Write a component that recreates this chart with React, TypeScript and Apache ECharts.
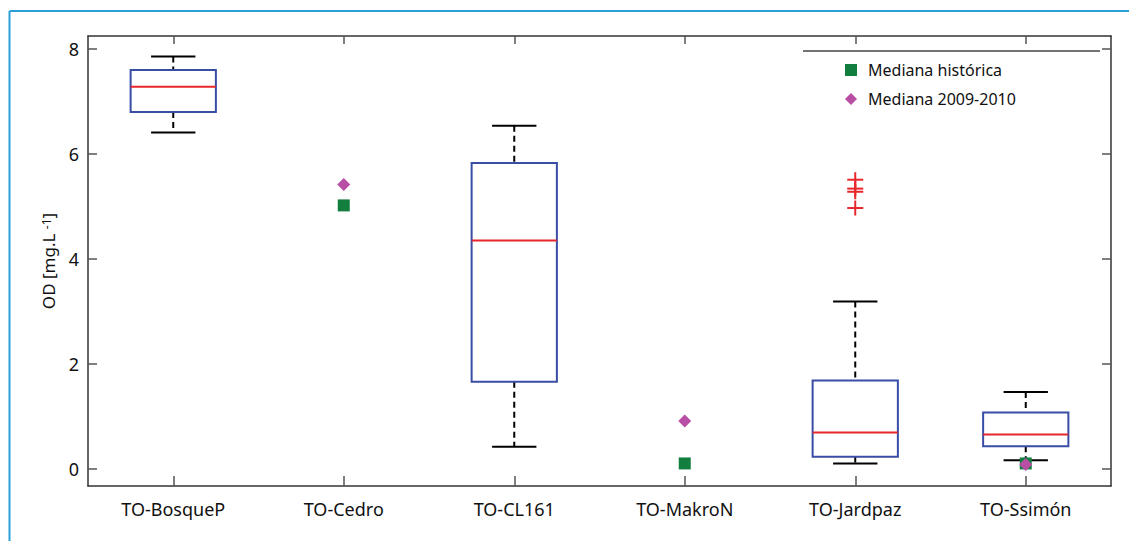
import React, { useEffect, useRef } from 'react';
import * as echarts from 'echarts';

const categories = ['TO-BosqueP', 'TO-Cedro', 'TO-CL161', 'TO-MakroN', 'TO-Jardpaz', 'TO-Ssimón'];
// [categoryIndex, lowerWhisker, q1, median, q3, upperWhisker]
const boxes = [
  [0, 6.41, 6.8, 7.28, 7.6, 7.86],
  [2, 0.42, 1.66, 4.35, 5.83, 6.54],
  [4, 0.1, 0.23, 0.69, 1.68, 3.19],
  [5, 0.16, 0.43, 0.65, 1.07, 1.46],
];
const outliers = [
  [4, 5.51],
  [4, 5.34],
  [4, 5.28],
  [4, 4.97],
];
const medianaHistorica = [
  [1, 5.02],
  [3, 0.1],
  [5, 0.1],
];
const mediana20092010 = [
  [1, 5.42],
  [3, 0.91],
  [5, 0.08],
];
const yTicks = [0, 2, 4, 6, 8];

const FONT = '"Noto Sans", "Open Sans", sans-serif';
const AXIS = '#333333';
const TICK = '#555555';

export default function App() {
  const ref = useRef<HTMLDivElement>(null);
  useEffect(() => {
    if (!ref.current) return;
    const chart = echarts.init(ref.current, undefined, { renderer: 'svg' });
    const yCommon = {
      type: 'value' as const,
      min: -0.33,
      max: 8.25,
      splitLine: { show: false },
      axisLine: { show: true, onZero: false, lineStyle: { color: AXIS, width: 1.5 } },
      axisTick: { show: true, inside: true, length: 9, customValues: yTicks, lineStyle: { color: TICK, width: 1.5 } },
    };
    const option: any = {
      animation: false,
      textStyle: { fontFamily: FONT },
      grid: { left: 88, top: 36, right: 18, bottom: 55, containLabel: false },
      xAxis: [
        {
          type: 'category',
          data: categories,
          position: 'bottom',
          axisLine: { show: true, onZero: false, lineStyle: { color: AXIS, width: 1.5 } },
          axisTick: { show: true, inside: true, length: 10, alignWithLabel: true, lineStyle: { color: TICK, width: 1.5 } },
          axisLabel: { fontSize: 18, color: '#111', margin: 14, fontFamily: FONT },
          splitLine: { show: false },
        },
        {
          type: 'category',
          data: categories,
          position: 'top',
          axisLine: { show: true, onZero: false, lineStyle: { color: AXIS, width: 1.5 } },
          axisTick: { show: true, inside: true, length: 8, alignWithLabel: true, lineStyle: { color: TICK, width: 1.5 } },
          axisLabel: { show: false },
          splitLine: { show: false },
        },
      ],
      yAxis: [
        {
          ...yCommon,
          position: 'left',
          name: 'OD [mg.L {sup|-1}]',
          nameLocation: 'middle',
          nameRotate: 90,
          nameGap: 31,
          nameTextStyle: {
            fontSize: 17,
            color: '#111',
            fontFamily: FONT,
            rich: { sup: { fontSize: 12, verticalAlign: 'top', color: '#111', fontFamily: FONT } },
          },
          axisLabel: { show: true, customValues: yTicks, fontSize: 18, color: '#111', margin: 9, fontFamily: FONT },
        },
        {
          ...yCommon,
          position: 'right',
          axisLabel: { show: false },
        },
      ],
      legend: {
        orient: 'vertical',
        left: 840,
        top: 57,
        itemWidth: 12,
        itemHeight: 12,
        itemGap: 13,
        textStyle: { fontSize: 16, lineHeight: 16, color: '#111', padding: [0, 0, 0, 6], fontFamily: FONT },
        data: [
          { name: 'Mediana histórica', icon: 'rect' },
          { name: 'Mediana 2009-2010', icon: 'diamond' },
        ],
      },
      graphic: [
        { type: 'line', shape: { x1: 9.5, y1: 11, x2: 1129, y2: 11 }, style: { stroke: '#2a9fd8', lineWidth: 2 }, z: 10 },
        { type: 'line', shape: { x1: 9.5, y1: 11, x2: 9.5, y2: 541 }, style: { stroke: '#2a9fd8', lineWidth: 2 }, z: 10 },
        { type: 'line', shape: { x1: 803, y1: 51, x2: 1100, y2: 51 }, style: { stroke: '#444', lineWidth: 1.5 }, z: 10 },
      ],
      series: [
        {
          type: 'custom',
          name: 'boxes',
          xAxisIndex: 0,
          yAxisIndex: 0,
          data: boxes,
          encode: { x: 0, y: [1, 2, 3, 4, 5] },
          renderItem: (params: any, api: any) => {
            const idx = api.value(0);
            const low = api.coord([idx, api.value(1)]);
            const q1 = api.coord([idx, api.value(2)]);
            const med = api.coord([idx, api.value(3)]);
            const q3 = api.coord([idx, api.value(4)]);
            const high = api.coord([idx, api.value(5)]);
            const band = api.size([1, 0])[0];
            const bw = band * 0.5;
            const cw = band * 0.26;
            const x = med[0];
            const dash = { stroke: '#000', lineWidth: 2, lineDash: [6, 4] };
            const solid = { stroke: '#000', lineWidth: 2 };
            return {
              type: 'group',
              children: [
                { type: 'line', shape: { x1: x, y1: high[1], x2: x, y2: q3[1] }, style: dash },
                { type: 'line', shape: { x1: x, y1: q1[1], x2: x, y2: low[1] }, style: dash },
                { type: 'line', shape: { x1: x - cw / 2, y1: high[1], x2: x + cw / 2, y2: high[1] }, style: solid },
                { type: 'line', shape: { x1: x - cw / 2, y1: low[1], x2: x + cw / 2, y2: low[1] }, style: solid },
                {
                  type: 'rect',
                  shape: { x: x - bw / 2, y: q3[1], width: bw, height: q1[1] - q3[1] },
                  style: { fill: 'none', stroke: '#3a4da5', lineWidth: 2 },
                },
                {
                  type: 'line',
                  shape: { x1: x - bw / 2, y1: med[1], x2: x + bw / 2, y2: med[1] },
                  style: { stroke: '#e8262b', lineWidth: 2 },
                },
              ],
            };
          },
          z: 2,
        },
        {
          type: 'custom',
          name: 'outliers',
          data: outliers,
          encode: { x: 0, y: 1 },
          renderItem: (params: any, api: any) => {
            const p = api.coord([api.value(0), api.value(1)]);
            const st = { stroke: '#e8262b', lineWidth: 2 };
            return {
              type: 'group',
              children: [
                { type: 'line', shape: { x1: p[0] - 8, y1: p[1], x2: p[0] + 8, y2: p[1] }, style: st },
                { type: 'line', shape: { x1: p[0], y1: p[1] - 7.5, x2: p[0], y2: p[1] + 7.5 }, style: st },
              ],
            };
          },
          z: 3,
        },
        {
          type: 'scatter',
          name: 'Mediana histórica',
          data: medianaHistorica,
          symbol: 'rect',
          symbolSize: 12,
          itemStyle: { color: '#127f3f', opacity: 1 },
          z: 4,
        },
        {
          type: 'scatter',
          name: 'Mediana 2009-2010',
          data: mediana20092010,
          symbol: 'diamond',
          symbolSize: 13,
          itemStyle: { color: '#b94fa5', opacity: 1 },
          z: 5,
        },
      ],
    };
    chart.setOption(option);
    return () => chart.dispose();
  }, []);
  return <div ref={ref} style={{ position: 'fixed', left: 0, top: 0, width: 1129, height: 541, background: '#fff' }} />;
}
